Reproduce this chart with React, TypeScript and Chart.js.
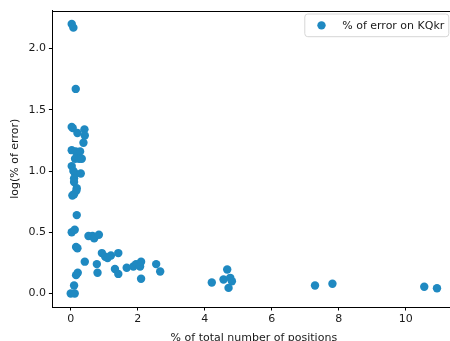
import React, { useEffect, useRef } from 'react';
import { Chart, registerables } from 'chart.js';

Chart.register(...registerables);

// ---- data ----
const pctPositions = [
  0.03, 0.08, 0.15, 0.03, 0.06, 0.20, 0.41, 0.42, 0.38, 0.03,
  0.15, 0.28, 0.13, 0.25, 0.33, 0.03, 0.08, 0.13, 0.30, 0.10,
  0.10, 0.18, 0.17, 0.10, 0.05, 0.18, 0.03, 0.12, 0.16, 0.20,
  0.53, 0.65, 0.70, 0.84, 0.93, 1.03, 1.10, 1.20, 1.42, 0.42,
  0.78, 0.80, 1.32, 1.42, 1.67, 1.87, 1.95, 2.07, 2.10, 2.10,
  2.55, 2.67, 0.21, 0.16, 0.10, 0.00, 0.12, 4.21, 4.56, 4.67,
  4.76, 4.81, 4.71, 7.29, 7.81, 10.55, 10.93,
];
const logError = [
  2.20, 2.17, 1.67, 1.36, 1.35, 1.31, 1.34, 1.29, 1.23, 1.17,
  1.16, 1.16, 1.10, 1.10, 1.10, 1.04, 1.00, 0.98, 0.98, 0.94,
  0.91, 0.86, 0.84, 0.81, 0.80, 0.64, 0.50, 0.52, 0.38, 0.37,
  0.47, 0.47, 0.45, 0.48, 0.33, 0.30, 0.29, 0.31, 0.33, 0.26,
  0.24, 0.17, 0.20, 0.16, 0.21, 0.22, 0.24, 0.22, 0.26, 0.12,
  0.24, 0.18, 0.17, 0.15, 0.065, 0.00, 0.00, 0.09, 0.115, 0.196,
  0.128, 0.10, 0.046, 0.065, 0.08, 0.055, 0.043,
];
const xTicks = [0, 2, 4, 6, 8, 10];
const yTicks = [0, 0.5, 1.0, 1.5, 2.0];
const seriesLabel = '% of error on KQkr';
const xTitle = '% of total number of positions';
const yTitle = 'log(% of error)';

// ---- styling ----
const W = 470;
const H = 350;
const FAMILY = 'DejaVu Sans';
const POINT_COLOR = '#1f89c1';
const TEXT_COLOR = '#1a1a1a';
const AXIS_COLOR = '#000000';

const framePlugin = {
  id: 'frame',
  afterDraw(chart: any) {
    const { ctx, chartArea } = chart;
    const { left, right, top } = chartArea;
    ctx.save();
    // top & right spines
    ctx.strokeStyle = AXIS_COLOR;
    ctx.lineWidth = 1;
    ctx.beginPath();
    ctx.moveTo(left, Math.round(top) + 0.5);
    ctx.lineTo(right, Math.round(top) + 0.5);
    ctx.moveTo(Math.round(right) + 0.5, top);
    ctx.lineTo(Math.round(right) + 0.5, chartArea.bottom);
    ctx.stroke();

    // legend box (upper right)
    const bw = 144;
    const bh = 22.7;
    const bx = right - 6.5 - bw;
    const by = top + 3.5;
    const r = 3;
    ctx.beginPath();
    ctx.moveTo(bx + r, by);
    ctx.lineTo(bx + bw - r, by);
    ctx.arcTo(bx + bw, by, bx + bw, by + r, r);
    ctx.lineTo(bx + bw, by + bh - r);
    ctx.arcTo(bx + bw, by + bh, bx + bw - r, by + bh, r);
    ctx.lineTo(bx + r, by + bh);
    ctx.arcTo(bx, by + bh, bx, by + bh - r, r);
    ctx.lineTo(bx, by + r);
    ctx.arcTo(bx, by, bx + r, by, r);
    ctx.closePath();
    ctx.fillStyle = 'rgba(255,255,255,0.8)';
    ctx.fill();
    ctx.strokeStyle = '#d6d6d6';
    ctx.stroke();

    ctx.beginPath();
    ctx.arc(bx + 16.7, by + bh / 2, 4.2, 0, Math.PI * 2);
    ctx.fillStyle = POINT_COLOR;
    ctx.fill();

    ctx.fillStyle = TEXT_COLOR;
    ctx.font = `11px "${FAMILY}"`;
    ctx.textAlign = 'left';
    ctx.textBaseline = 'middle';
    ctx.fillText(seriesLabel, bx + 37.4, by + bh / 2 + 0.5);
    ctx.restore();
  },
};

export default function App() {
  const ref = useRef<HTMLCanvasElement>(null);

  useEffect(() => {
    const xMinD = Math.min(...pctPositions);
    const xMaxD = Math.max(...pctPositions);
    const yMinD = Math.min(...logError);
    const yMaxD = Math.max(...logError);
    const xm = (xMaxD - xMinD) * 0.05;
    const ym = (yMaxD - yMinD) * 0.05;
    const font = { family: FAMILY, size: 11 };

    const chart = new Chart(ref.current as HTMLCanvasElement, {
      type: 'scatter',
      data: {
        datasets: [
          {
            label: seriesLabel,
            data: pctPositions.map((x, i) => ({ x, y: logError[i] })),
            backgroundColor: POINT_COLOR,
            borderWidth: 0,
            pointRadius: 4.2,
            pointHoverRadius: 4.2,
          },
        ],
      },
      options: {
        responsive: false,
        animation: false,
        devicePixelRatio: 1,
        events: [],
        layout: { padding: { left: 0, top: 10.5, right: W - 455.3, bottom: 0 } },
        plugins: { legend: { display: false }, tooltip: { enabled: false } },
        scales: {
          x: {
            type: 'linear',
            min: xMinD - xm,
            max: xMaxD + xm,
            afterBuildTicks: (s: any) => {
              s.ticks = xTicks.map((v) => ({ value: v }));
            },
            afterFit: (s: any) => {
              s.height = H - 307;
            },
            grid: { drawOnChartArea: false, drawTicks: true, tickLength: 3.5, color: AXIS_COLOR, tickWidth: 1 },
            border: { display: true, color: AXIS_COLOR, width: 1 },
            ticks: {
              font,
              color: TEXT_COLOR,
              padding: 2.5,
              maxRotation: 0,
              autoSkip: false,
              callback: (v: any) => String(v),
            },
            title: { display: true, text: xTitle, font, color: TEXT_COLOR, padding: { top: 0, bottom: 5 } },
          },
          y: {
            type: 'linear',
            min: yMinD - ym,
            max: yMaxD + ym,
            afterBuildTicks: (s: any) => {
              s.ticks = yTicks.map((v) => ({ value: v }));
            },
            afterFit: (s: any) => {
              s.width = 52.4;
            },
            grid: { drawOnChartArea: false, drawTicks: true, tickLength: 3.5, color: AXIS_COLOR, tickWidth: 1 },
            border: { display: true, color: AXIS_COLOR, width: 1 },
            ticks: {
              font,
              color: TEXT_COLOR,
              padding: 3,
              autoSkip: false,
              callback: (v: any) => Number(v).toFixed(1),
            },
            title: { display: true, text: yTitle, font, color: TEXT_COLOR, padding: { top: 8.5, bottom: 0 } },
          },
        },
      },
      plugins: [framePlugin],
    });
    return () => chart.destroy();
  }, []);

  return (
    <div style={{ position: 'absolute', left: 0, top: 0, width: 450, height: 341, overflow: 'hidden', background: '#fff' }}>
      <canvas ref={ref} width={W} height={H} style={{ width: W, height: H, display: 'block' }} />
    </div>
  );
}
